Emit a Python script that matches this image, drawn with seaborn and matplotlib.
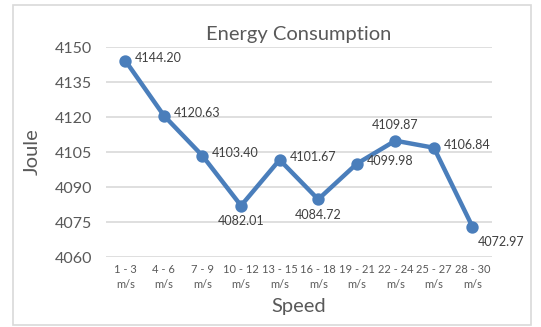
import matplotlib
matplotlib.use("Agg")
import matplotlib.pyplot as plt
import seaborn as sns
import pandas as pd
from matplotlib.patches import Rectangle

categories = ["1 - 3\nm/s", "4 - 6\nm/s", "7 - 9\nm/s", "10 - 12\nm/s", "13 - 15\nm/s",
              "16 - 18\nm/s", "19 - 21\nm/s", "22 - 24\nm/s", "25 - 27\nm/s", "28 - 30\nm/s"]
values = [4144.20, 4120.63, 4103.40, 4082.01, 4101.67, 4084.72, 4099.98, 4109.87, 4106.84, 4072.97]
yticks = [4060, 4075, 4090, 4105, 4120, 4135, 4150]
label_pos = ["right", "right", "right", "below", "right", "below", "right", "above", "right", "belowright"]

sns.set_theme(style="white")
plt.rcParams['font.family'] = ['Lato', 'DejaVu Sans']

grey = "#595959"
line_color = "#4A7EBB"

df = pd.DataFrame({"Speed": categories, "Joule": values})

fig = plt.figure(figsize=(5.41, 3.27), dpi=100)
ax = fig.add_axes([0.196, 0.214, 0.713, 0.642])

sns.pointplot(data=df, x="Speed", y="Joule", color=line_color, ax=ax,
              markers="o", linewidth=3.2, markersize=6.5, errorbar=None)

ax.set_ylim(4060, 4150)
ax.set_xlim(-0.5, len(categories) - 0.5)
ax.set_yticks(yticks)
ax.set_yticklabels([str(t) for t in yticks], fontsize=11.5, color=grey)
ax.set_xticks(range(len(categories)))
ax.set_xticklabels(categories, fontsize=8, color=grey, linespacing=1.45)
ax.tick_params(axis="y", length=0, pad=10)
ax.tick_params(axis="x", length=0, pad=5)
ax.yaxis.grid(True, color="#D9D9D9", linewidth=1.2)
ax.set_axisbelow(True)
for s in ax.spines.values():
    s.set_visible(False)

ax.set_xlabel("Speed", fontsize=14.5, color=grey, labelpad=6)
ax.set_ylabel("Joule", fontsize=14.5, color=grey, labelpad=10)
ax.set_title("Energy Consumption", fontsize=14.5, color=grey, pad=5)

offsets = {"right": (7, 2, "left", "center"),
           "below": (0, -7, "center", "top"),
           "above": (0, 7, "center", "bottom"),
           "belowright": (4, -7, "left", "top")}
for i, (v, p) in enumerate(zip(values, label_pos)):
    dx, dy, ha, va = offsets[p]
    ax.annotate(f"{v:.2f}", (i, v), xytext=(dx, dy), textcoords="offset points",
                ha=ha, va=va, fontsize=9, color="#404040")

fig.patches.append(Rectangle((13 / 541, 1 - 325 / 327), (531 - 13) / 541, (325 - 5) / 327,
                             transform=fig.transFigure, fill=False,
                             edgecolor="#D9D9D9", linewidth=1.2))

fig.savefig("out.png", dpi=100)
